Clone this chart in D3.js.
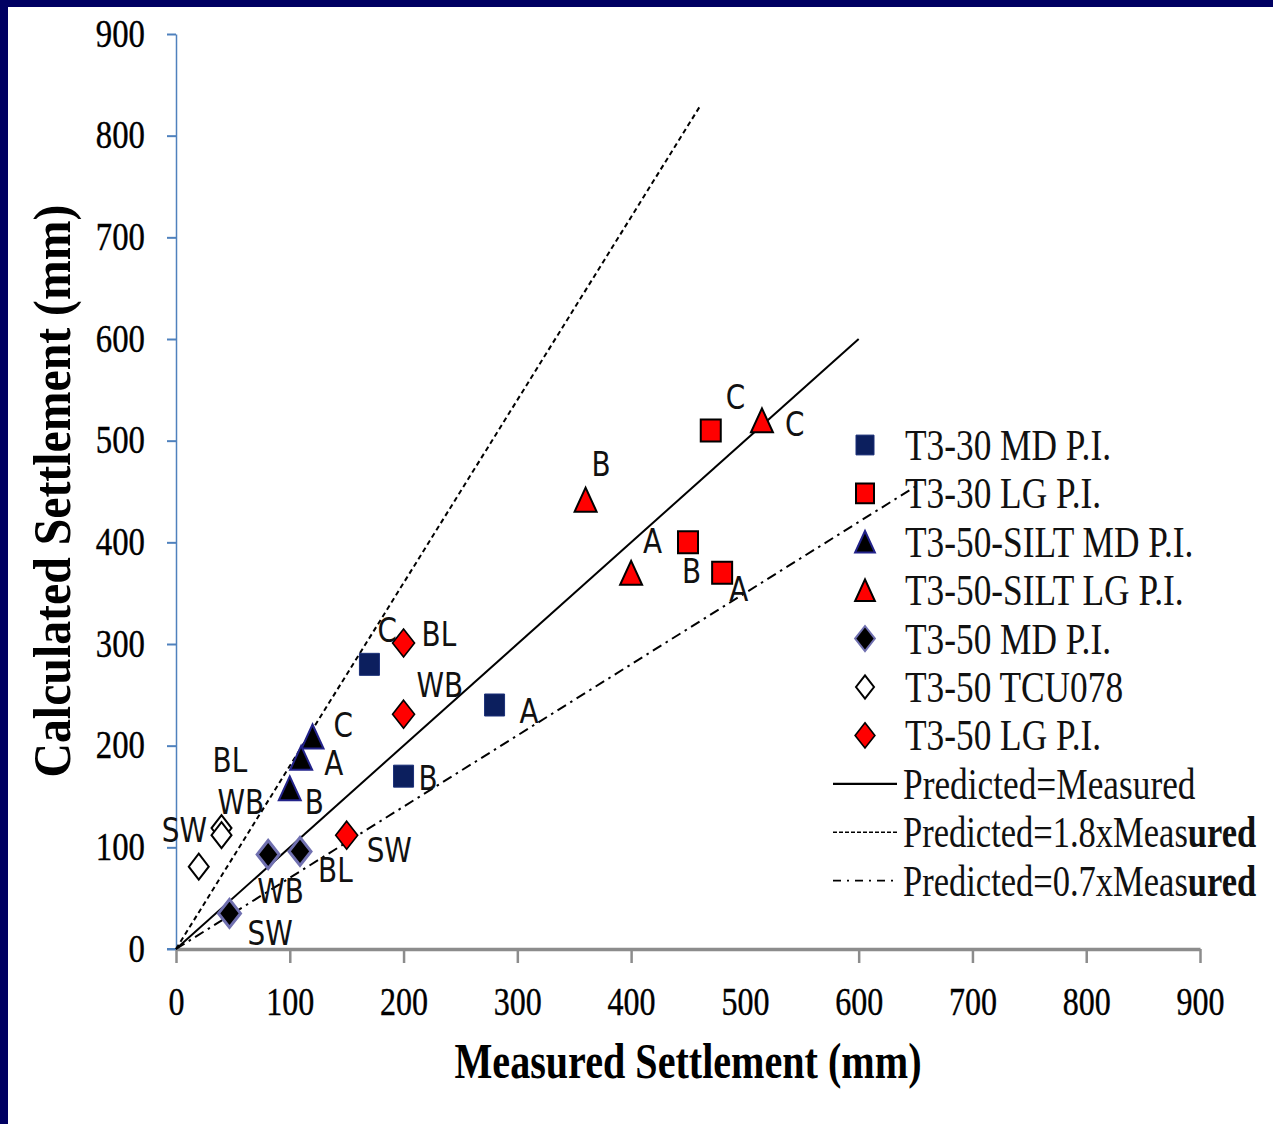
<!DOCTYPE html>
<html><head><meta charset="utf-8">
<script src="https://cdn.jsdelivr.net/npm/d3@7"></script>
<style>html,body{margin:0;padding:0;background:#fff;}svg{display:block;}</style>
</head><body>
<svg id="c" width="1273" height="1124"></svg>
<script>
// ---------- data ----------
const xTickValues = [0,100,200,300,400,500,600,700,800,900];
const yTickValues = [0,100,200,300,400,500,600,700,800,900];
const xTitle = "Measured Settlement (mm)";
const yTitle = "Calculated Settlement (mm)";

const seriesNames = ["T3-30 MD P.I.","T3-30 LG P.I.","T3-50-SILT MD P.I.","T3-50-SILT LG P.I.","T3-50 MD P.I.","T3-50 TCU078","T3-50 LG P.I."];
const lineNames = ["Predicted=Measured","Predicted=1.8xMeasured","Predicted=0.7xMeasured"];
const lineRatios = [1, 1.8, 0.7];
const lineExtents = [600, 460, 650];

const t330mdX = [170, 280, 200], t330mdY = [280, 240, 170], t330mdLbl = ["C","A","B"];
const t330lgX = [470, 450, 480], t330lgY = [510, 400, 370], t330lgLbl = ["C","B","A"];
const siltMdX = [120, 110, 100], siltMdY = [209, 188, 158], siltMdLbl = ["C","A","B"];
const siltLgX = [360, 400, 515], siltLgY = [442, 370, 520], siltLgLbl = ["B","A","C"];
const t350mdX = [47, 81, 109], t350mdY = [35, 93, 96], t350mdLbl = ["SW","WB","BL"];
const tcuX = [20, 40, 40], tcuY = [81, 119, 112], tcuLbl = ["SW","BL","WB"];
const t350lgX = [150, 200, 200], t350lgY = [112, 301, 231], t350lgLbl = ["SW","BL","WB"];

// ---------- layout / style ----------
const svg = d3.select("#c");
const x = d3.scaleLinear().domain([0,900]).range([176,1200]);
const y = d3.scaleLinear().domain([0,900]).range([949,34]);

// frame
svg.append("rect").attr("x",0).attr("y",0).attr("width",1273).attr("height",1124).attr("fill","#fff");
svg.append("rect").attr("x",0).attr("y",0).attr("width",8).attr("height",1124).attr("fill","#000062");
svg.append("rect").attr("x",0).attr("y",0).attr("width",1273).attr("height",7).attr("fill","#000062");

const SERIF = "'Liberation Serif','Times New Roman',serif";
const SANS = "'DejaVu Sans',Verdana,sans-serif";

// axes
const yAxis = svg.append("g").attr("transform","translate(176,0)")
  .call(d3.axisLeft(y).tickValues(yTickValues).tickSize(9).tickSizeOuter(0).tickFormat(d3.format("d")));
yAxis.select(".domain").attr("stroke","#4f81bd").attr("stroke-width",1.5);
yAxis.selectAll(".tick line").attr("stroke","#4f81bd").attr("stroke-width",2);
yAxis.selectAll(".tick text")
  .attr("font-family",SERIF).attr("font-size",40).attr("fill","#000")
  .attr("stroke","#000").attr("stroke-width",0.4)
  .attr("dy",null).attr("y",12).attr("x",-31/0.82)
  .attr("transform","scale(0.82,1)");

const xAxis = svg.append("g").attr("transform","translate(0,949)")
  .call(d3.axisBottom(x).tickValues(xTickValues).tickSize(14).tickSizeOuter(0).tickFormat(d3.format("d")));
xAxis.select(".domain").attr("stroke","#8c8c8c").attr("stroke-width",3.5);
xAxis.selectAll(".tick line").attr("stroke","#8c8c8c").attr("stroke-width",2.5)
  .filter(d => d === 500).remove();
xAxis.selectAll(".tick text")
  .attr("font-family",SERIF).attr("font-size",40).attr("fill","#000")
  .attr("stroke","#000").attr("stroke-width",0.4)
  .attr("dy",null).attr("y",66)
  .attr("transform","scale(0.8,1)");
// small blue stub at origin of y axis
svg.append("line").attr("x1",167).attr("x2",176).attr("y1",y(0)).attr("y2",y(0)).attr("stroke","#4f81bd").attr("stroke-width",2);

// titles
svg.append("text").attr("x",688).attr("y",1078).attr("text-anchor","middle")
  .attr("font-family",SERIF).attr("font-weight","bold").attr("font-size",51)
  .attr("textLength",467).attr("lengthAdjust","spacingAndGlyphs").attr("fill","#000").text(xTitle);
svg.append("text").attr("transform","translate(70,491) rotate(-90)").attr("text-anchor","middle")
  .attr("font-family",SERIF).attr("font-weight","bold").attr("font-size",53)
  .attr("textLength",573).attr("lengthAdjust","spacingAndGlyphs").attr("fill","#000").text(yTitle);

// reference lines
const lineDash = [null, "5,3.5", "10,5,2.5,5"];
lineRatios.forEach((k,i) => {
  svg.append("path")
    .datum([0, lineExtents[i]])
    .attr("d", d3.line().x(d => x(d)).y(d => y(k*d)))
    .attr("fill","none").attr("stroke","#000").attr("stroke-width",2)
    .attr("stroke-dasharray", lineDash[i]);
});

// marker shapes (half width, half height)
function markerPath(shape, w, h) {
  const p = d3.path();
  if (shape === "square") { p.rect(-w,-h,2*w,2*h); }
  else if (shape === "triangle") { p.moveTo(0,-h); p.lineTo(w,h); p.lineTo(-w,h); p.closePath(); }
  else { p.moveTo(0,-h); p.lineTo(w,0); p.lineTo(0,h); p.lineTo(-w,0); p.closePath(); }
  return p.toString();
}

const styles = [
  {shape:"square",   w:10,h:11, fill:"#0c1f5e", stroke:"#1a2f78", sw:1},
  {shape:"square",   w:10,h:11, fill:"#ff0000", stroke:"#000",    sw:2},
  {shape:"triangle", w:11,h:12, fill:"#000",    stroke:"#23238a", sw:2},
  {shape:"triangle", w:11,h:12, fill:"#ff0000", stroke:"#000",    sw:2},
  {shape:"diamond",  w:11,h:14, fill:"#000",    stroke:"#7070b0", sw:3},
  {shape:"diamond",  w:10,h:13, fill:"#fff",    stroke:"#000",    sw:2},
  {shape:"diamond",  w:11,h:14, fill:"#ff0000", stroke:"#000",    sw:1.6}
];
const seriesData = [
  [t330mdX,t330mdY,t330mdLbl],[t330lgX,t330lgY,t330lgLbl],[siltMdX,siltMdY,siltMdLbl],
  [siltLgX,siltLgY,siltLgLbl],[t350mdX,t350mdY,t350mdLbl],[tcuX,tcuY,tcuLbl],[t350lgX,t350lgY,t350lgLbl]
];
// label offsets (px) from each marker: [dx (text start), dy (baseline)]
const labelOffsets = [
  [[8,-22],[25,18],[15,14]],
  [[15,-22],[-6,41],[7,28]],
  [[21,0],[23,17],[15,26]],
  [[6,-24],[12,-20],[23,16]],
  [[18,32],[-11,49],[18,31]],
  [[-37,-25],[-9,-56],[-4,-21]],
  [[20,27],[18,3],[13,-17]]
];

const pts = svg.append("g");
seriesData.forEach((s,i) => {
  const st = styles[i];
  const rows = s[0].map((v,j) => ({x:v, y:s[1][j], lbl:s[2][j], j}));
  pts.selectAll(null).data(rows).enter().append("path")
    .attr("transform", d => `translate(${x(d.x)},${y(d.y)})`)
    .attr("d", markerPath(st.shape, st.w, st.h))
    .attr("fill", st.fill).attr("stroke", st.stroke).attr("stroke-width", st.sw)
    .attr("stroke-linejoin","miter");
});
const lbls = svg.append("g");
seriesData.forEach((s,i) => {
  const rows = s[0].map((v,j) => ({x:v, y:s[1][j], lbl:s[2][j], j}));
  lbls.selectAll(null).data(rows).enter().append("text")
    .attr("transform", d => `translate(${x(d.x)+labelOffsets[i][d.j][0]},${y(d.y)+labelOffsets[i][d.j][1]}) scale(0.82,1)`)
    .attr("font-family",SANS).attr("font-size",34).attr("fill","#111")
    .text(d => d.lbl);
});

// legend
const legRow0 = 445, legStep = 48.4;
const leg = svg.append("g");
seriesNames.forEach((name,i) => {
  const st = styles[i];
  const cy = legRow0 + i*legStep;
  const sc = 0.9;
  leg.append("path").attr("transform",`translate(865,${cy})`)
    .attr("d", markerPath(st.shape, st.w*sc, st.h*sc))
    .attr("fill", st.fill).attr("stroke", st.stroke).attr("stroke-width", Math.min(st.sw,2));
  leg.append("text").attr("transform",`translate(905,${cy+15}) scale(0.785,1)`)
    .attr("font-family",SERIF).attr("font-size",45).attr("fill","#111").text(name);
});
const legDash = [null, "4,2", "8,6,2,6"];
lineNames.forEach((name,i) => {
  const cy = legRow0 + (seriesNames.length + i)*legStep;
  leg.append("line").attr("x1",833).attr("x2",897).attr("y1",cy).attr("y2",cy)
    .attr("stroke","#000").attr("stroke-width", i===0?2.2:1.6).attr("stroke-dasharray", legDash[i]);
  const t = leg.append("text").attr("transform",`translate(903,${cy+15}) scale(0.785,1)`)
    .attr("font-family",SERIF).attr("font-size",45).attr("fill","#111");
  if (i === 0) { t.text(name); }
  else {
    t.attr("textLength",450).attr("lengthAdjust","spacingAndGlyphs");
    t.append("tspan").text(name.slice(0, -4));
    t.append("tspan").attr("font-weight","bold").text(name.slice(-4));
  }
});
</script>
</body></html>
